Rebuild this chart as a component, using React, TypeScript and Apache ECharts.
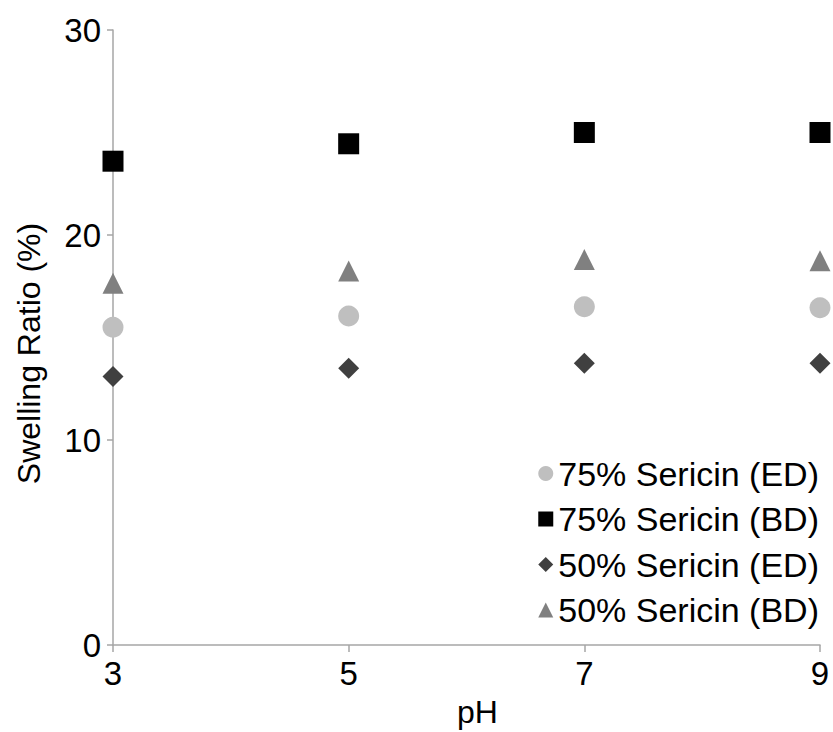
import React, { useEffect, useRef } from "react";
import * as echarts from "echarts";

const phValues = [3, 5, 7, 9];
const xTicks = [3, 5, 7, 9];
const seriesNames = [
  "75% Sericin (ED)",
  "75% Sericin (BD)",
  "50% Sericin (ED)",
  "50% Sericin (BD)",
];
const sericin75ED = [15.5, 16.05, 16.5, 16.45];
const sericin75BD = [23.6, 24.45, 25.0, 25.0];
const sericin50ED = [13.1, 13.5, 13.75, 13.75];
const sericin50BD = [17.65, 18.25, 18.8, 18.75];

const FONT = "Liberation Sans, Arial, sans-serif";

export default function App() {
  const ref = useRef<HTMLDivElement>(null);
  useEffect(() => {
    if (!ref.current) return;
    const chart = echarts.init(ref.current, undefined, { renderer: "svg" });
    const mk = (vals: number[]) => phValues.map((x, i) => [x, vals[i]]);
    const styles = [
      { data: sericin75ED, symbol: "circle", color: "#bfbfbf", size: 21 },
      { data: sericin75BD, symbol: "rect", color: "#000000", size: 21 },
      { data: sericin50ED, symbol: "diamond", color: "#404040", size: 21 },
      { data: sericin50BD, symbol: "triangle", color: "#808080", size: 21 },
    ];
    chart.setOption({
      animation: false,
      backgroundColor: "#ffffff",
      grid: { left: 113, right: 13, top: 30, bottom: 87, containLabel: false, outerBoundsMode: "none" },
      legend: {
        orient: "vertical",
        right: 14,
        bottom: 105,
        padding: 0,
        itemGap: 11.5,
        itemWidth: 15,
        itemHeight: 15,
        itemTextGap: 6,
        align: "left",
        textStyle: { fontFamily: FONT, fontSize: 34, color: "#000", lineHeight: 34 },
        data: seriesNames,
      },
      xAxis: {
        type: "value",
        min: 3,
        max: 9,
        interval: 2,
        name: "pH",
        nameLocation: "middle",
        nameGap: 51,
        nameTextStyle: { fontFamily: FONT, fontSize: 32, color: "#000", padding: [0, 0, 0, 22] },
        axisLine: { show: true, onZero: false, lineStyle: { color: "#a6a6a6", width: 1.5 } },
        axisTick: { show: true, length: 7, lineStyle: { color: "#a6a6a6", width: 1.5 } },
        axisLabel: { fontFamily: FONT, fontSize: 33, color: "#000", margin: 12 },
        splitLine: { show: false },
      },
      yAxis: {
        type: "value",
        min: 0,
        max: 30,
        interval: 10,
        name: "Swelling Ratio (%)",
        nameLocation: "middle",
        nameGap: 68,
        nameTextStyle: { fontFamily: FONT, fontSize: 32, color: "#000", padding: [0, 32, 0, 0] },
        axisLine: { show: true, lineStyle: { color: "#a6a6a6", width: 1.5 } },
        axisTick: { show: true, length: 6, lineStyle: { color: "#a6a6a6", width: 1.5 } },
        axisLabel: { fontFamily: FONT, fontSize: 33, color: "#000", margin: 12 },
        splitLine: { show: false },
      },
      series: styles.map((s, i) => ({
        name: seriesNames[i],
        type: "scatter",
        symbol: s.symbol,
        symbolSize: s.size,
        itemStyle: { color: s.color, opacity: 1 },
        data: mk(s.data),
        z: 3,
      })),
    });
    return () => chart.dispose();
  }, []);
  return <div ref={ref} style={{ width: 833, height: 732, position: "absolute", left: 0, top: 0 }} />;
}
